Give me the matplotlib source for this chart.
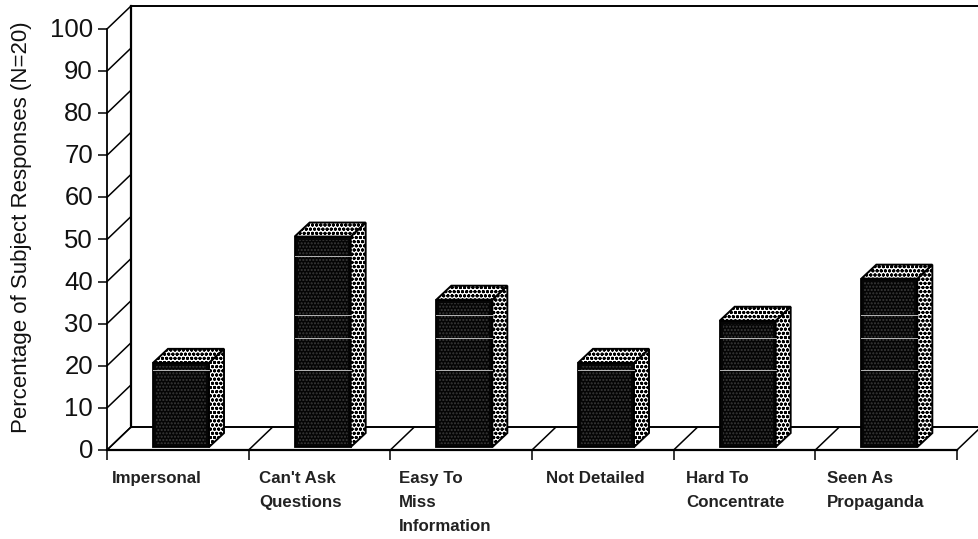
import matplotlib
matplotlib.use('Agg')
import matplotlib.pyplot as plt
from matplotlib.patches import Polygon

plt.rcParams['font.family'] = ['Liberation Sans', 'DejaVu Sans']
plt.rcParams['hatch.linewidth'] = 1.0

categories = ['Impersonal', "Can't Ask\nQuestions", 'Easy To\nMiss\nInformation',
              'Not Detailed', 'Hard To\nConcentrate', 'Seen As\nPropaganda']
values = [20, 50, 35, 20, 30, 40]
y_ticks = [0, 10, 20, 30, 40, 50, 60, 70, 80, 90, 100]
ylabel = 'Percentage of Subject Responses (N=20)'
# pale scan lines across the bars, in percent
scan_lines = [19, 26.5, 32, 46]

W, H = 979, 539
# pixel positions of the front axis corners
X0, X6, Y0, Y100 = 107, 957, 450, 29
px_x = (X6 - X0) / 6
px_y = (Y0 - Y100) / 100
DX = 24 / px_x
DY = 23 / px_y
BAR_W = 56 / px_x
BAR_DX = 15 / px_x
BAR_DY = 14 / px_y
BAR_OFF = 46 / px_x
BAR_Y0 = 0.7
INSET_X = 3 / px_x
INSET_Y = 3 / px_y

fig = plt.figure(figsize=(W / 100, H / 100), dpi=100)
ax = fig.add_axes([0, 0, 1, 1])
ax.set_xlim(-X0 / px_x, (W - X0) / px_x)
ax.set_ylim(-(H - Y0) / px_y, Y0 / px_y)
ax.axis('off')

LINE = dict(color='black', lw=1.1, solid_capstyle='butt')

# walls and floor
ax.plot([0, 0], [0, 100], color='black', lw=1.3)
ax.plot([DX, DX], [DY, 100 + DY], color='black', lw=1.6)
ax.plot([DX, 7], [100 + DY, 100 + DY], color='black', lw=1.4)
ax.plot([DX, 6 + DX], [DY, DY], color='black', lw=1.4)
ax.plot([0, 6], [0, 0], color='black', lw=1.6)
for t in y_ticks:
    ax.plot([0, DX], [t, t + DY], **LINE)
    ax.plot([-9 / px_x, 0], [t, t], **LINE)
    fig.text(93 / W, 1 - (Y0 - t * px_y + 1) / H, str(t), ha='right', va='center',
             fontsize=18.5, color='#111111')
for i in range(7):
    ax.plot([i, i + DX], [0, DY], **LINE)
    ax.plot([i, i], [0, -10 / px_y], **LINE)

# bars
for i, v in enumerate(values):
    x0 = i + BAR_OFF
    x1 = x0 + BAR_W
    top = v + BAR_Y0
    ax.add_patch(Polygon([(x0, BAR_Y0), (x1, BAR_Y0), (x1, top), (x0, top)], closed=True,
                         facecolor='#050505', edgecolor='black', lw=1.3, zorder=3))
    ax.add_patch(Polygon([(x0 + INSET_X, BAR_Y0 + INSET_Y), (x1 - INSET_X, BAR_Y0 + INSET_Y),
                          (x1 - INSET_X, top - INSET_Y), (x0 + INSET_X, top - INSET_Y)], closed=True,
                         facecolor='#050505', edgecolor='#3a3a3a', hatch='.....', lw=0, zorder=4))
    ax.add_patch(Polygon([(x1, BAR_Y0), (x1 + BAR_DX, BAR_Y0 + BAR_DY), (x1 + BAR_DX, top + BAR_DY), (x1, top)],
                         closed=True, facecolor='white', edgecolor='black', hatch='oooo', lw=1.4, zorder=3))
    ax.add_patch(Polygon([(x0, top), (x1, top), (x1 + BAR_DX, top + BAR_DY), (x0 + BAR_DX, top + BAR_DY)],
                         closed=True, facecolor='white', edgecolor='black', hatch='oooo', lw=1.4, zorder=3))
    for s in scan_lines:
        if s < v:
            ax.plot([x0, x1], [s, s], color='#b8b8b8', lw=0.7, zorder=5)

# text
fig.text(22 / W, 1 - 227 / H, ylabel, rotation=90, ha='center', va='center',
         fontsize=16, color='#111111')
label_x = [112, 259, 399, 546, 686, 827]
for lab, lx in zip(categories, label_x):
    fig.text(lx / W, 1 - 471 / H, lab, ha='left', va='top', fontsize=12.2, fontweight='bold',
             color='#222222', linespacing=1.75)

fig.savefig('out.png', dpi=100)
